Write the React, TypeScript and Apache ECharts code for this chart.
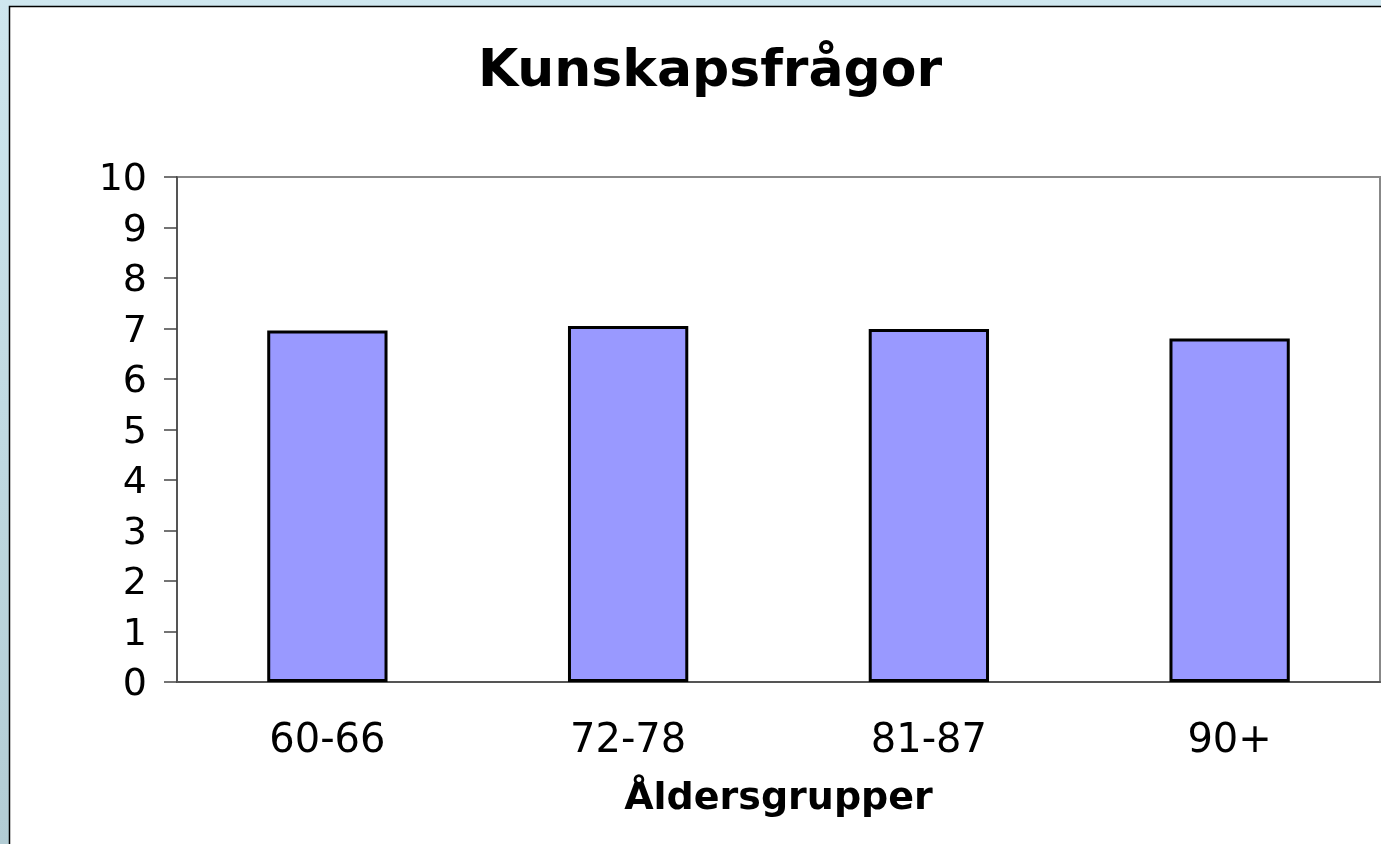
import React, { useEffect, useRef } from "react";
import * as echarts from "echarts";

const titleText = "Kunskapsfrågor";
const axisName = "Åldersgrupper";
const categories = ["60-66", "72-78", "81-87", "90+"];
const values = [6.96, 7.05, 6.99, 6.8];
const yMin = 0;
const yMax = 10;
const yInterval = 1;

const FONT = "'DejaVu Sans', Verdana, sans-serif";

export default function App() {
  const ref = useRef<HTMLDivElement>(null);
  useEffect(() => {
    if (!ref.current) return;
    const chart = echarts.init(ref.current, undefined, { renderer: "svg" });
    chart.setOption({
      animation: false,
      backgroundColor: "transparent",
      title: {
        text: titleText,
        left: 710,
        top: 42,
        textAlign: "center",
        padding: 0,
        textStyle: { fontFamily: FONT, fontSize: 52, fontWeight: "bold", color: "#000" },
      },
      graphic: [
        {
          type: "rect",
          z: -20,
          silent: true,
          shape: { x: 0, y: 0, width: 1381, height: 844 },
          style: {
            fill: new echarts.graphic.LinearGradient(0, 0, 0, 1, [
              { offset: 0, color: "#cfe7ef" },
              { offset: 1, color: "#b2ccd4" },
            ]),
          },
        },
        {
          type: "rect",
          z: -10,
          silent: true,
          shape: { x: 9.5, y: 6.5, width: 1500, height: 1000 },
          style: { fill: "#ffffff", stroke: "#000000", lineWidth: 1.5 },
        },
      ],
      grid: {
        left: 177,
        top: 177,
        width: 1203,
        height: 505,
        show: true,
        borderColor: "#888888",
        borderWidth: 2,
        backgroundColor: "transparent",
      },
      xAxis: {
        type: "category",
        data: categories,
        name: axisName,
        nameLocation: "middle",
        nameGap: 95,
        nameTextStyle: { fontFamily: FONT, fontSize: 38, fontWeight: "bold", color: "#000" },
        axisLine: { show: true, lineStyle: { color: "#555", width: 2 } },
        axisTick: { show: false },
        axisLabel: { fontFamily: FONT, fontSize: 40, color: "#000", margin: 36 },
        splitLine: { show: false },
      },
      yAxis: {
        type: "value",
        min: yMin,
        max: yMax,
        interval: yInterval,
        axisLine: { show: true, lineStyle: { color: "#444", width: 1.5 } },
        axisTick: { show: true, length: 13, lineStyle: { color: "#444", width: 1.5 } },
        axisLabel: { fontFamily: FONT, fontSize: 38, color: "#000", margin: 30 },
        splitLine: { show: false },
      },
      series: [
        {
          type: "bar",
          data: values,
          barCategoryGap: "60%",
          itemStyle: { color: "#9999ff", borderColor: "#000", borderWidth: 3 },
        },
      ],
    });
    return () => chart.dispose();
  }, []);
  return (
    <div
      ref={ref}
      style={{ position: "fixed", left: 0, top: 0, width: 1381, height: 844 }}
    />
  );
}
